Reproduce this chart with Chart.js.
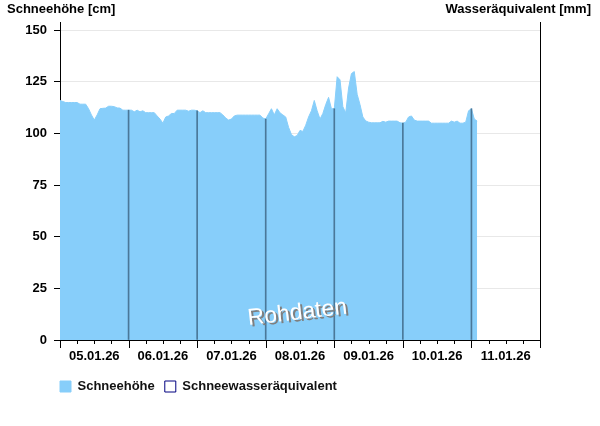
<!DOCTYPE html>
<html>
<head>
<meta charset="utf-8">
<script src="https://cdn.jsdelivr.net/npm/chart.js@4.4.1/dist/chart.umd.min.js"></script>
<style>
  body{margin:0;background:#fff}
</style>
</head>
<body>
<canvas id="myChart" width="600" height="426"></canvas>
<script>
// hourly snow depth [cm], one array per day, starting 05.01.26 00:00
const dayLabels = ['05.01.26','06.01.26','07.01.26','08.01.26','09.01.26','10.01.26','11.01.26'];
const snow05 = [116,115.5,115,115,115,115,115,114.2,114.2,114.2,112,109,106.5,109,112,112.2,112.3,113.2,113.2,113,112.4,112.3,111.3,111.3];
const snow06 = [111.3,111.3,110.5,111.3,110.5,111,110.1,110.1,110.1,110.1,108.5,107,105,108,108.5,109.7,109.7,111.3,111.3,111.3,111.3,110.8,111.3,111.3];
const snow07 = [111,110.1,111,110.1,110.1,110.1,110.1,110.1,110.1,109,107.5,106.5,107,108.5,108.9,108.9,108.9,108.9,108.9,108.9,108.9,108.9,108.9,107.5];
const snow08 = [107,109.5,112,109,112,110,109,108,103,99.5,98.4,99,101.5,101,104,108,111,116,111,107,109.7,114,117.5,112];
const snow09 = [112,127.5,126,113,110,122,129,130,119,114,108,106.1,105.5,105.2,105.2,105.2,105.2,105.9,105.5,106,106,106,106,105.2];
const snow10 = [105,105.5,108,108.5,106.5,106,106,106,106,106,105,105,105,105,105,105,105,106,105.5,106,105,105,105.5,111];
const snow11 = [112,107,106];
const swe = []; // Schneewasseräquivalent: no values in this period
const yTicks = [0,25,50,75,100,125,150];

const fontFamily = '"Liberation Sans", Arial, sans-serif';
Chart.defaults.font.family = fontFamily;
Chart.defaults.font.size = 13;
Chart.defaults.font.weight = 'bold';
Chart.defaults.color = '#000';

function buildSeries(){
  const all = [].concat(snow05,snow06,snow07,snow08,snow09,snow10,snow11);
  return all.map((v,i) => ({x:i, y:v}));
}

function buildDayMarks(series){
  return series.filter(p => p.x > 0 && p.x % 24 === 0).map(p => ({x:p.x, y:p.y}));
}

const axisTitles = {
  id: 'axisTitles',
  afterDraw(chart){
    const ctx = chart.ctx;
    ctx.save();
    ctx.font = 'bold 13px ' + fontFamily;
    ctx.fillStyle = '#000';
    ctx.textBaseline = 'middle';
    ctx.textAlign = 'left';
    ctx.fillText('Schneehöhe [cm]', 7, 9);
    ctx.textAlign = 'right';
    ctx.fillText('Wasseräquivalent [mm]', 591, 9);
    ctx.restore();
  }
};

const watermark = {
  id: 'watermark',
  afterDatasetsDraw(chart){
    const ctx = chart.ctx;
    const a = chart.chartArea;
    const cx = a.left + (a.right - a.left) * 0.496;
    const cy = a.top + (a.bottom - a.top) * 0.935;
    ctx.save();
    ctx.translate(cx, cy);
    ctx.rotate(-0.115);
    ctx.font = '23px ' + fontFamily;
    ctx.textAlign = 'center';
    ctx.textBaseline = 'alphabetic';
    ctx.fillStyle = '#7f7f7f';
    ctx.fillText('Rohdaten', 2, 2);
    ctx.fillStyle = '#fff';
    ctx.fillText('Rohdaten', 0, 0);
    ctx.restore();
  }
};

// short 6h ticks, longer day ticks
const xTickMarks = {
  id: 'xTickMarks',
  afterDraw(chart){
    const xs = chart.scales.x;
    const ctx = chart.ctx;
    ctx.save();
    ctx.strokeStyle = '#000';
    ctx.lineWidth = 1;
    xs.ticks.forEach(t => {
      const px = Math.round(xs.getPixelForValue(t.value)) + 0.5;
      const len = t.value % 24 === 0 ? 8 : 4;
      ctx.beginPath();
      ctx.moveTo(px, xs.top);
      ctx.lineTo(px, xs.top + len);
      ctx.stroke();
    });
    ctx.restore();
  }
};

// legend starts under the y axis, not at the canvas edge
const legendShift = {
  id: 'legendShift',
  afterLayout(chart){
    const lg = chart.legend;
    if(lg){ lg.left = chart.chartArea.left - lg.options.labels.padding; }
  }
};

function drawChart(){
  const series = buildSeries();
  const ctx = document.getElementById('myChart');
  new Chart(ctx, {
    type: 'line',
    data: {
      datasets: [{
        type: 'bar',
        label: '',
        data: buildDayMarks(series),
        backgroundColor: '#4a7899',
        borderWidth: 0,
        barThickness: 1,
        order: 1
      },{
        label: 'Schneehöhe',
        data: series,
        backgroundColor: '#87cefa',
        borderColor: '#87cefa',
        borderWidth: 1,
        pointRadius: 0,
        tension: 0,
        fill: 'origin',
        order: 2
      },{
        label: 'Schneewasseräquivalent',
        data: swe,
        backgroundColor: '#fff',
        borderColor: '#000080',
        borderWidth: 1,
        pointRadius: 0,
        yAxisID: 'y2',
        order: 3
      }]
    },
    options: {
      responsive: false,
      animation: false,
      layout: {padding: {top: 22, left: 0, right: 60, bottom: 23}},
      plugins: {
        legend: {
          position: 'bottom',
          align: 'start',
          labels: {
            boxWidth: 11,
            boxHeight: 11,
            padding: 10,
            color: '#111',
            font: {size: 13, weight: 'bold'},
            filter: item => item.text !== ''
          }
        },
        tooltip: {enabled: false}
      },
      scales: {
        x: {
          type: 'linear',
          min: 0,
          max: 168,
          offset: false,
          afterBuildTicks: scale => {
            const list = [];
            for(let h = 0; h <= 168; h += 6){ list.push({value: h}); }
            scale.ticks = list;
          },
          afterFit: scale => { scale.height = 30; },
          ticks: {
            autoSkip: false,
            maxRotation: 0,
            padding: 9,
            callback: v => (v % 24 === 12 ? dayLabels[(v - 12) / 24] : '')
          },
          grid: {display: true, drawOnChartArea: false, drawTicks: false, offset: false},
          border: {color: '#000', width: 1}
        },
        y: {
          min: 0,
          max: 154,
          afterBuildTicks: scale => { scale.ticks = yTicks.map(v => ({value: v})); },
          afterFit: scale => { scale.width = 60; },
          ticks: {padding: 7},
          grid: {color: '#e8e8e8', tickColor: '#000', tickLength: 6},
          border: {color: '#000', width: 1}
        },
        y2: {
          position: 'right',
          min: 0,
          max: 154,
          afterFit: scale => { scale.width = 0; },
          ticks: {display: false},
          grid: {drawOnChartArea: false, drawTicks: false},
          border: {color: '#000', width: 1}
        }
      }
    },
    plugins: [axisTitles, watermark, xTickMarks, legendShift]
  });
}

drawChart();
</script>
</body>
</html>
